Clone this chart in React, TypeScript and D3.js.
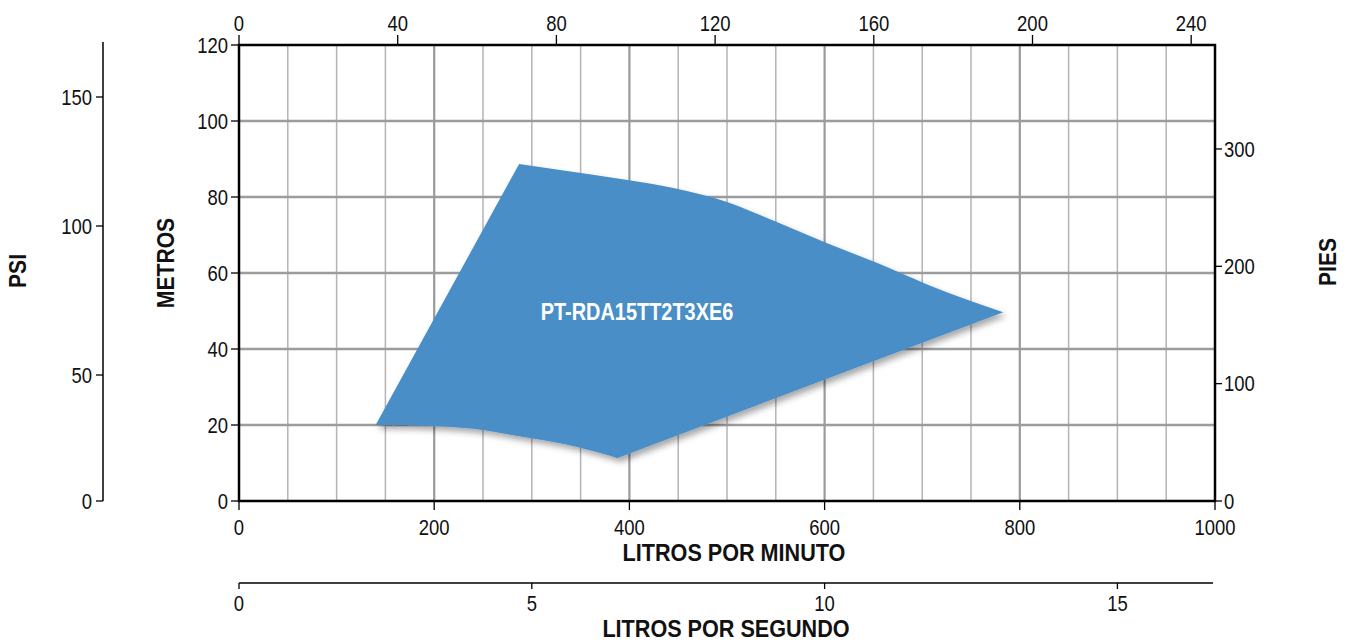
import React from "react";
import * as d3 from "d3";

// ---- data ----
const lpmTicks = [0, 200, 400, 600, 800, 1000];
const gpmTicks = [0, 40, 80, 120, 160, 200, 240];
const metrosTicks = [0, 20, 40, 60, 80, 100, 120];
const psiTicks = [0, 50, 100, 150];
const piesTicks = [0, 100, 200, 300];
const lpsTicks = [0, 5, 10, 15];

// pump range envelope (litros por minuto, metros)
const leftPoint: [number, number] = [140, 20];
const topEdge: [number, number][] = [
  [287, 88.7], [329, 87.1], [393, 84.7], [445, 82.4], [500, 78.7],
  [551, 73.4], [602, 67.9], [654, 62.6], [705, 57.0], [783, 49.7],
];
const bottomEdge: [number, number][] = [
  [388, 11.3], [340, 14.6], [290, 16.9], [240, 19.0], [190, 19.8], [140, 20],
];
const modelName = "PT-RDA15TT2T3XE6";

const W = 1347, H = 642;
const L = 239, R = 1215, T = 45, B = 501;
const FONT = "'Liberation Sans', Arial, sans-serif";

type TProps = {
  x: number; y: number; anchor?: "start" | "middle" | "end"; size: number; sx: number;
  bold?: boolean; rotate?: number; fill?: string; children: React.ReactNode;
};
function Txt({ x, y, anchor = "middle", size, sx, bold, rotate = 0, fill = "#111", children }: TProps) {
  return (
    <text transform={`translate(${x},${y}) rotate(${rotate}) scale(${sx},1)`} textAnchor={anchor}
      dominantBaseline="central"
      style={{ fontFamily: FONT, fontSize: size, fontWeight: bold ? 700 : 400, fill }}>
      {children}
    </text>
  );
}

export default function App() {
  const x = d3.scaleLinear().domain([0, 1000]).range([L, R]);
  const y = d3.scaleLinear().domain([0, 120]).range([B, T]);
  const xGpm = d3.scaleLinear().domain([0, 246]).range([L, R]);
  const xLps = d3.scaleLinear().domain([0, 1000 / 60]).range([L, R]);
  const yPies = d3.scaleLinear().domain([0, 388.6]).range([B, T]);
  const yPsi = d3.scaleLinear().domain([0, 50, 100, 150]).range([501, 375, 226, 97]);

  const topLine = d3.line<[number, number]>().x((d) => x(d[0])).y((d) => y(d[1])).curve(d3.curveMonotoneX);
  const botLine = d3.line<[number, number]>().x((d) => x(d[0])).y((d) => y(d[1])).curve(d3.curveCatmullRom.alpha(0.5));
  const topD = (topLine(topEdge) || "").replace(/^M/, "L");
  const botD = (botLine(bottomEdge) || "").replace(/^M/, "L");
  const shapeD = `M${x(leftPoint[0])},${y(leftPoint[1])}${topD}${botD}Z`;

  const vGrid = d3.range(50, 1000, 50);
  const hGrid = d3.range(20, 120, 20);

  const TS = 22, TSX = 0.84;

  return (
    <svg width={W} height={H} style={{ position: "absolute", left: 0, top: 0, background: "#fff" }}>
      <defs>
        <filter id="shadow" x="-10%" y="-10%" width="130%" height="130%">
          <feDropShadow dx="3" dy="4" stdDeviation="3" floodColor="#000" floodOpacity="0.35" />
        </filter>
      </defs>
      {/* grid */}
      {vGrid.map((v) => (
        <line key={"v" + v} x1={x(v)} x2={x(v)} y1={T} y2={B}
          stroke={v % 200 === 0 ? "#9a9a9c" : "#b4b4b6"} strokeWidth={v % 200 === 0 ? 2.2 : 1.5} />
      ))}
      {hGrid.map((v) => (
        <line key={"h" + v} x1={L} x2={R} y1={y(v)} y2={y(v)} stroke="#9c9c9e" strokeWidth={2.5} />
      ))}
      {/* envelope */}
      <path d={shapeD} fill="#4a8ec7" filter="url(#shadow)" />
      <Txt x={637} y={y(49.9)} size={24} sx={0.83} bold fill="#fff">{modelName}</Txt>
      {/* frame */}
      <rect x={L} y={T} width={R - L} height={B - T} fill="none" stroke="#000" strokeWidth={2.5} />

      {/* left METROS axis */}
      {metrosTicks.map((v) => (
        <g key={"m" + v}>
          <line x1={L - 8} x2={L} y1={y(v)} y2={y(v)} stroke="#000" strokeWidth={1.3} />
          <Txt x={L - 11} y={y(v)} anchor="end" size={TS} sx={TSX}>{v}</Txt>
        </g>
      ))}
      <Txt x={166} y={263} rotate={-90} size={24} sx={0.88} bold>METROS</Txt>

      {/* PSI axis */}
      <line x1={103} x2={103} y1={42} y2={B} stroke="#000" strokeWidth={1.5} />
      {psiTicks.map((v) => (
        <g key={"p" + v}>
          <line x1={96} x2={103} y1={yPsi(v)} y2={yPsi(v)} stroke="#000" strokeWidth={1.3} />
          <Txt x={92} y={yPsi(v)} anchor="end" size={TS} sx={TSX}>{v}</Txt>
        </g>
      ))}
      <Txt x={18} y={271} rotate={-90} size={24} sx={0.88} bold>PSI</Txt>

      {/* right PIES axis */}
      {piesTicks.map((v) => (
        <g key={"f" + v}>
          <line x1={R} x2={R + 7} y1={yPies(v)} y2={yPies(v)} stroke="#000" strokeWidth={1.3} />
          <Txt x={R + 9} y={yPies(v)} anchor="start" size={TS} sx={TSX}>{v}</Txt>
        </g>
      ))}
      <Txt x={1328} y={262} rotate={-90} size={24} sx={0.88} bold>PIES</Txt>

      {/* top GPM axis */}
      {gpmTicks.map((v) => (
        <g key={"g" + v}>
          <line x1={xGpm(v)} x2={xGpm(v)} y1={T - 10} y2={T} stroke="#000" strokeWidth={1.3} />
          <Txt x={xGpm(v)} y={23} size={TS} sx={TSX}>{v}</Txt>
        </g>
      ))}

      {/* bottom LPM axis */}
      {lpmTicks.map((v) => (
        <g key={"l" + v}>
          <line x1={x(v)} x2={x(v)} y1={B} y2={B + 9} stroke="#000" strokeWidth={1.3} />
          <Txt x={x(v)} y={527} size={TS} sx={TSX}>{v}</Txt>
        </g>
      ))}
      <Txt x={734} y={553} size={24} sx={0.9} bold>LITROS POR MINUTO</Txt>

      {/* LPS axis */}
      <line x1={L} x2={1213} y1={583} y2={583} stroke="#000" strokeWidth={1.5} />
      {lpsTicks.map((v) => (
        <g key={"s" + v}>
          <line x1={xLps(v)} x2={xLps(v)} y1={583} y2={589} stroke="#000" strokeWidth={1.3} />
          <Txt x={xLps(v)} y={603} size={TS} sx={TSX}>{v}</Txt>
        </g>
      ))}
      <Txt x={726} y={629} size={24} sx={0.9} bold>LITROS POR SEGUNDO</Txt>
    </svg>
  );
}
